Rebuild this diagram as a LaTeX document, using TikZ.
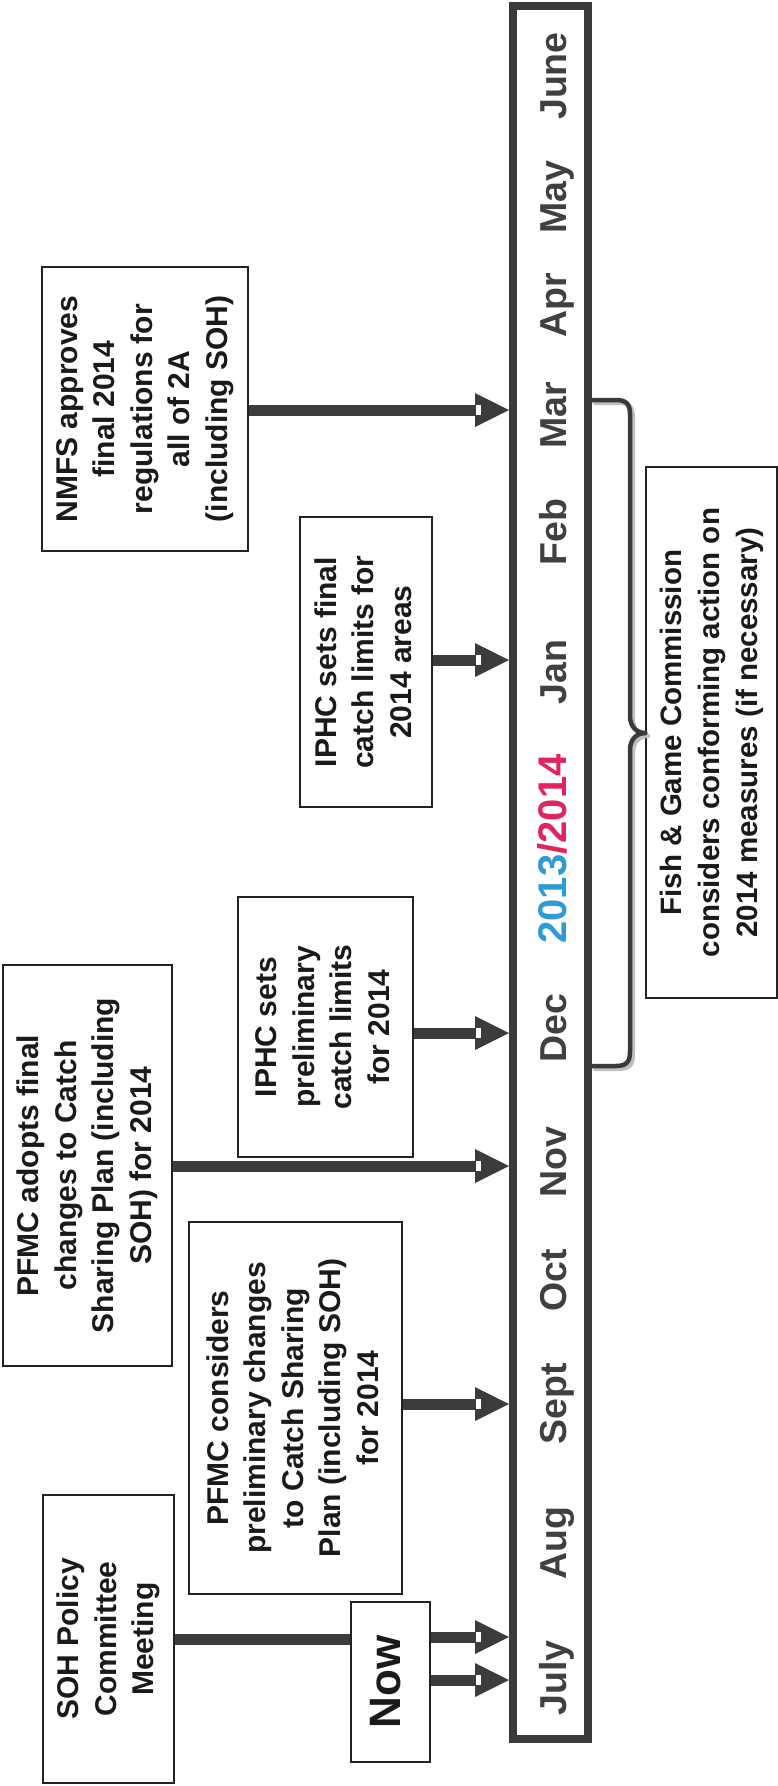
\documentclass[tikz,border=0pt]{standalone}
\usepackage{fontspec}
\setmainfont{Liberation Sans}
\usetikzlibrary{calc}
\definecolor{conncol}{HTML}{3C3C3C}
\definecolor{barcol}{HTML}{3A3A3A}
\definecolor{boxcol}{HTML}{222222}
\definecolor{txtcol}{HTML}{1A1A1A}
\definecolor{moncol}{HTML}{404040}
\definecolor{yrblue}{HTML}{2E9AD6}
\definecolor{yrred}{HTML}{E0245E}
\newcommand\btext[1]{\rotatebox{90}{\begin{tabular}{@{}c@{}}#1\end{tabular}}}
\newcommand\tlarrow[2]{%
  \draw[connline] (#1) -- ($(#2)+(-34,0)$);
  \fill[conncol] ($(#2)+(-34,-17)$) -- (#2) -- ($(#2)+(-34,17)$) -- cycle;
  \filldraw[draw=conncol, fill=white, line width=1] ($(#2)+(-34,-5.5)$) rectangle ($(#2)+(-28,5.5)$);
}
\tikzset{
  connline/.style={draw=conncol, line width=11},
  evbox/.style={draw=boxcol, line width=1.5, fill=white, inner sep=0, text=txtcol,
    font=\fontsize{30}{37.5}\selectfont\bfseries},
  month/.style={rotate=90, inner sep=0, text height=27.5, text depth=8, text=moncol,
    font=\fontsize{37.5}{42}\selectfont\bfseries},
  bracecol/.style={draw=barcol, line width=4.5, line cap=round},
  braceshadow/.style={draw=black!25, line width=4, line cap=round}
}
\begin{document}
\begin{tikzpicture}[x=1pt,y=-1pt]
\fill[white] (0,0) rectangle (778,1786);
\useasboundingbox (0,0) rectangle (778,1786);

% timeline bar
\node[draw=barcol, line width=8, minimum width=75, minimum height=1733, inner sep=0] (bar) at (550.5,872.5) {};

% months
\node[month] (mJune) at (557,76) {June};
\node[month] (mMay) at (557,197) {May};
\node[month] (mApr) at (557,305) {Apr};
\node[month] (mMar) at (557,415) {Mar};
\node[month] (mFeb) at (557,532) {Feb};
\node[month] (mJan) at (557,672) {Jan};
\node[month, text height=29, font=\fontsize{40}{44}\selectfont\bfseries] (mYear) at (556,849) {\textcolor{yrblue}{2013}\textcolor{yrred}{/2014}};
\node[month] (mDec) at (557,1028) {Dec};
\node[month] (mNov) at (557,1162) {Nov};
\node[month] (mOct) at (557,1280) {Oct};
\node[month] (mSept) at (557,1404) {Sept};
\node[month] (mAug) at (557,1543) {Aug};
\node[month] (mJuly) at (557,1678) {July};

% event boxes
\node[evbox, minimum width=206, minimum height=284] (nmfs) at (145,409)
  {\btext{NMFS approves\\final 2014\\regulations for\\all of 2A\\(including SOH)}};
\node[evbox, minimum width=132, minimum height=290] (iphcf) at (366,662)
  {\btext{IPHC sets final\\catch limits for\\2014 areas}};
\node[evbox, minimum width=175, minimum height=260] (iphcp) at (325.5,1027)
  {\btext{IPHC sets\\preliminary\\catch limits\\for 2014}};
\node[evbox, minimum width=169, minimum height=401] (pfmca) at (87.5,1165.5)
  {\btext{PFMC adopts final\\changes to Catch\\Sharing Plan (including\\SOH) for 2014}};
\node[evbox, minimum width=213, minimum height=372] (pfmcc) at (295.5,1408)
  {\btext{PFMC considers\\preliminary changes\\to Catch Sharing\\Plan (including SOH)\\for 2014}};
\node[evbox, minimum width=131, minimum height=288] (soh) at (108.5,1639)
  {\btext{SOH Policy\\Committee\\Meeting}};
\node[evbox, minimum width=79, minimum height=160, font=\fontsize{44}{48}\selectfont\bfseries] (now) at (390.5,1682)
  {\btext{Now}};
\node[evbox, minimum width=131, minimum height=531, font=\fontsize{29.5}{38}\selectfont\bfseries] (fg) at (711.5,732.5)
  {\btext{Fish \& Game Commission\\considers conforming action on\\2014 measures (if necessary)}};

% arrow heights
\coordinate (aMar) at (0,410);
\coordinate (aJan) at (0,660);
\coordinate (aDec) at (0,1033);
\coordinate (aNov) at (0,1166);
\coordinate (aSept) at (0,1404);
\coordinate (aJulA) at (0,1637);
\coordinate (aJulB) at (0,1680);
\coordinate (tMar) at (bar.west |- aMar);
\coordinate (tJan) at (bar.west |- aJan);
\coordinate (tDec) at (bar.west |- aDec);
\coordinate (tNov) at (bar.west |- aNov);
\coordinate (tSept) at (bar.west |- aSept);
\coordinate (tJulA) at (bar.west |- aJulA);
\coordinate (tJulB) at (bar.west |- aJulB);

% connectors
\tlarrow{nmfs.east |- aMar}{tMar}
\tlarrow{iphcf.east |- aJan}{tJan}
\tlarrow{iphcp.east |- aDec}{tDec}
\tlarrow{pfmca.east |- aNov}{tNov}
\tlarrow{pfmcc.east |- aSept}{tSept}
\draw[connline] (soh.east) -- (now.west |- soh.east);
\tlarrow{now.east |- aJulA}{tJulA}
\tlarrow{now.east |- aJulB}{tJulB}

% brace (shadow then line)
\draw[braceshadow] (595,403) -- (619,403) .. controls (629,403) and (633,407) .. (633,417) -- (633,719) .. controls (633,730) and (640,736) .. (648,736);
\draw[braceshadow] (648,736) .. controls (640,736) and (633,742) .. (633,753) -- (633,1055) .. controls (633,1065) and (629,1069) .. (619,1069) -- (595,1069);
\draw[bracecol] (bar.east |- 0,400) -- (616,400) .. controls (626,400) and (630,404) .. (630,414) -- (630,716) .. controls (630,727) and (637,733) .. (fg.west |- 0,733);
\draw[bracecol] (fg.west |- 0,733) .. controls (637,733) and (630,739) .. (630,750) -- (630,1052) .. controls (630,1062) and (626,1066) .. (616,1066) -- (bar.east |- 0,1066);
\end{tikzpicture}
\end{document}
